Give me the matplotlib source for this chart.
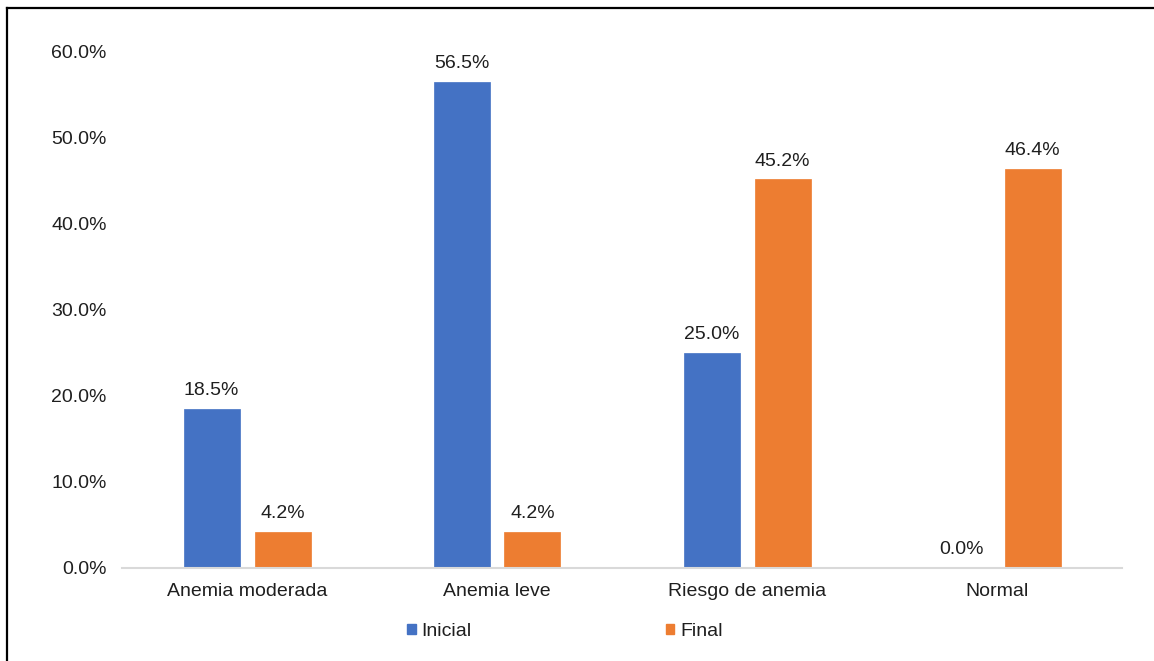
import numpy as np
import matplotlib
matplotlib.use("Agg")
import matplotlib.pyplot as plt
from matplotlib.lines import Line2D
from matplotlib.patches import Patch

categories = ["Anemia moderada", "Anemia leve", "Riesgo de anemia", "Normal"]
inicial = [18.5, 56.5, 25.0, 0.0]
final = [4.2, 4.2, 45.2, 46.4]
series_names = ["Inicial", "Final"]

blue = "#4472C4"
orange = "#ED7D31"
txt = "#1F1F1F"

plt.rcParams['font.family'] = ['Liberation Sans', 'DejaVu Sans']
plt.rcParams['font.size'] = 14

fig = plt.figure(figsize=(11.54, 6.61), dpi=100)
ax = fig.add_axes([122/1154, 1 - 568/661, 1000/1154, 516/661])

x = np.arange(len(categories))
w = 0.224
off = 0.142
b1 = ax.bar(x - off, inicial, w, color=blue, edgecolor=blue, linewidth=0.5)
b2 = ax.bar(x + off, final, w, color=orange, edgecolor=orange, linewidth=0.5)

for bars, vals in ((b1, inicial), (b2, final)):
    for r, v in zip(bars, vals):
        ax.annotate("%.1f%%" % v, (r.get_x() + r.get_width() / 2, v),
                    xytext=(0, 7), textcoords="offset points",
                    ha="center", va="bottom", color=txt, fontsize=14)

ax.set_xlim(-0.5, 3.5)
ax.set_ylim(0, 60)
ax.set_yticks(np.arange(0, 61, 10))
ax.set_yticklabels(["%.1f%%" % t for t in np.arange(0, 61, 10)])
ax.set_xticks(x)
ax.set_xticklabels(categories)
ax.tick_params(axis="both", length=0, colors=txt, labelsize=14)
ax.tick_params(axis="y", pad=11)
ax.tick_params(axis="x", pad=11)
for s in ["top", "right", "left"]:
    ax.spines[s].set_visible(False)
ax.spines["bottom"].set_color("#D9D9D9")
ax.spines["bottom"].set_linewidth(1.5)

handles = [Patch(color=blue), Patch(color=orange)]
fig.legend(handles, series_names, loc="center", ncol=2, frameon=False,
           bbox_to_anchor=(565/1154, 1 - 631/661),
           handlelength=0.42, handleheight=0.42, handletextpad=0.3,
           columnspacing=10.0, fontsize=14, labelcolor=txt)

# frame lines at top and left
fig.add_artist(Line2D([7/1154, 7/1154], [0, 1 - 8/661], color="black",
                      linewidth=1.6, transform=fig.transFigure))
fig.add_artist(Line2D([7/1154, 1], [1 - 8/661, 1 - 8/661], color="black",
                      linewidth=1.6, transform=fig.transFigure))

fig.savefig("out.png", dpi=100)
